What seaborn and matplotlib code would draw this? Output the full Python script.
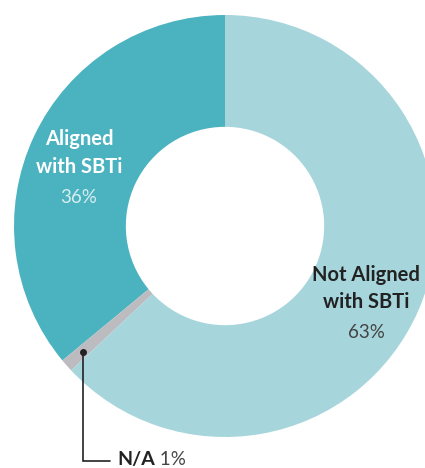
import numpy as np
import matplotlib
matplotlib.use("Agg")
import matplotlib.pyplot as plt
import seaborn as sns

labels = ["Aligned\nwith SBTi", "N/A", "Not Aligned\nwith SBTi"]
values = [36, 1, 63]
colors = ["#4bb3bf", "#bcbcc0", "#a6d5db"]

sns.set_theme(style="white")
plt.rcParams['font.family'] = ['Lato', 'DejaVu Sans']

fig = plt.figure(figsize=(4.25, 4.68), dpi=100)
ax = fig.add_axes([0, 0, 1, 1])
wedges, _ = ax.pie(values, colors=colors, startangle=90, counterclock=True,
                   radius=1, wedgeprops=dict(width=0.53, linewidth=0))
ax.set_aspect('auto')
ax.set_xlim(-225 / 211, 200 / 211)
ax.set_ylim(-242 / 211, 226 / 211)
ax.axis('off')

# aligned
ax.text(-0.692, 0.346, labels[0], color="white", fontsize=14.5, fontweight="bold",
        ha="center", va="center", linespacing=1.45)
ax.text(-0.692, 0.133, f"{values[0]}%", color="#d6eef0", fontsize=13.5,
        ha="center", va="center")

# not aligned
ax.text(0.668, -0.298, labels[2], color="#222222", fontsize=14.5, fontweight="bold",
        ha="center", va="center", linespacing=1.45)
ax.text(0.668, -0.507, f"{values[2]}%", color="#444444", fontsize=13.5,
        ha="center", va="center")

# n/a leader
w = wedges[1]
mid = np.deg2rad((w.theta1 + w.theta2) / 2)
dx, dy = 0.9 * np.cos(mid), 0.9 * np.sin(mid)
ax.plot([dx, dx, -0.545], [dy, -1.114, -1.114], color="#222222", lw=1.2, solid_joinstyle="miter")
ax.plot(dx, dy, "o", color="#222222", ms=4)
t = ax.text(-0.512, -1.109, labels[1], color="#222222", fontsize=14, fontweight="bold",
            ha="left", va="center")
ax.annotate(f" {values[1]}%", xycoords=t, xy=(1, 0.5), va="center", ha="left",
            color="#444444", fontsize=13.5)

fig.savefig("out.png", dpi=100)
